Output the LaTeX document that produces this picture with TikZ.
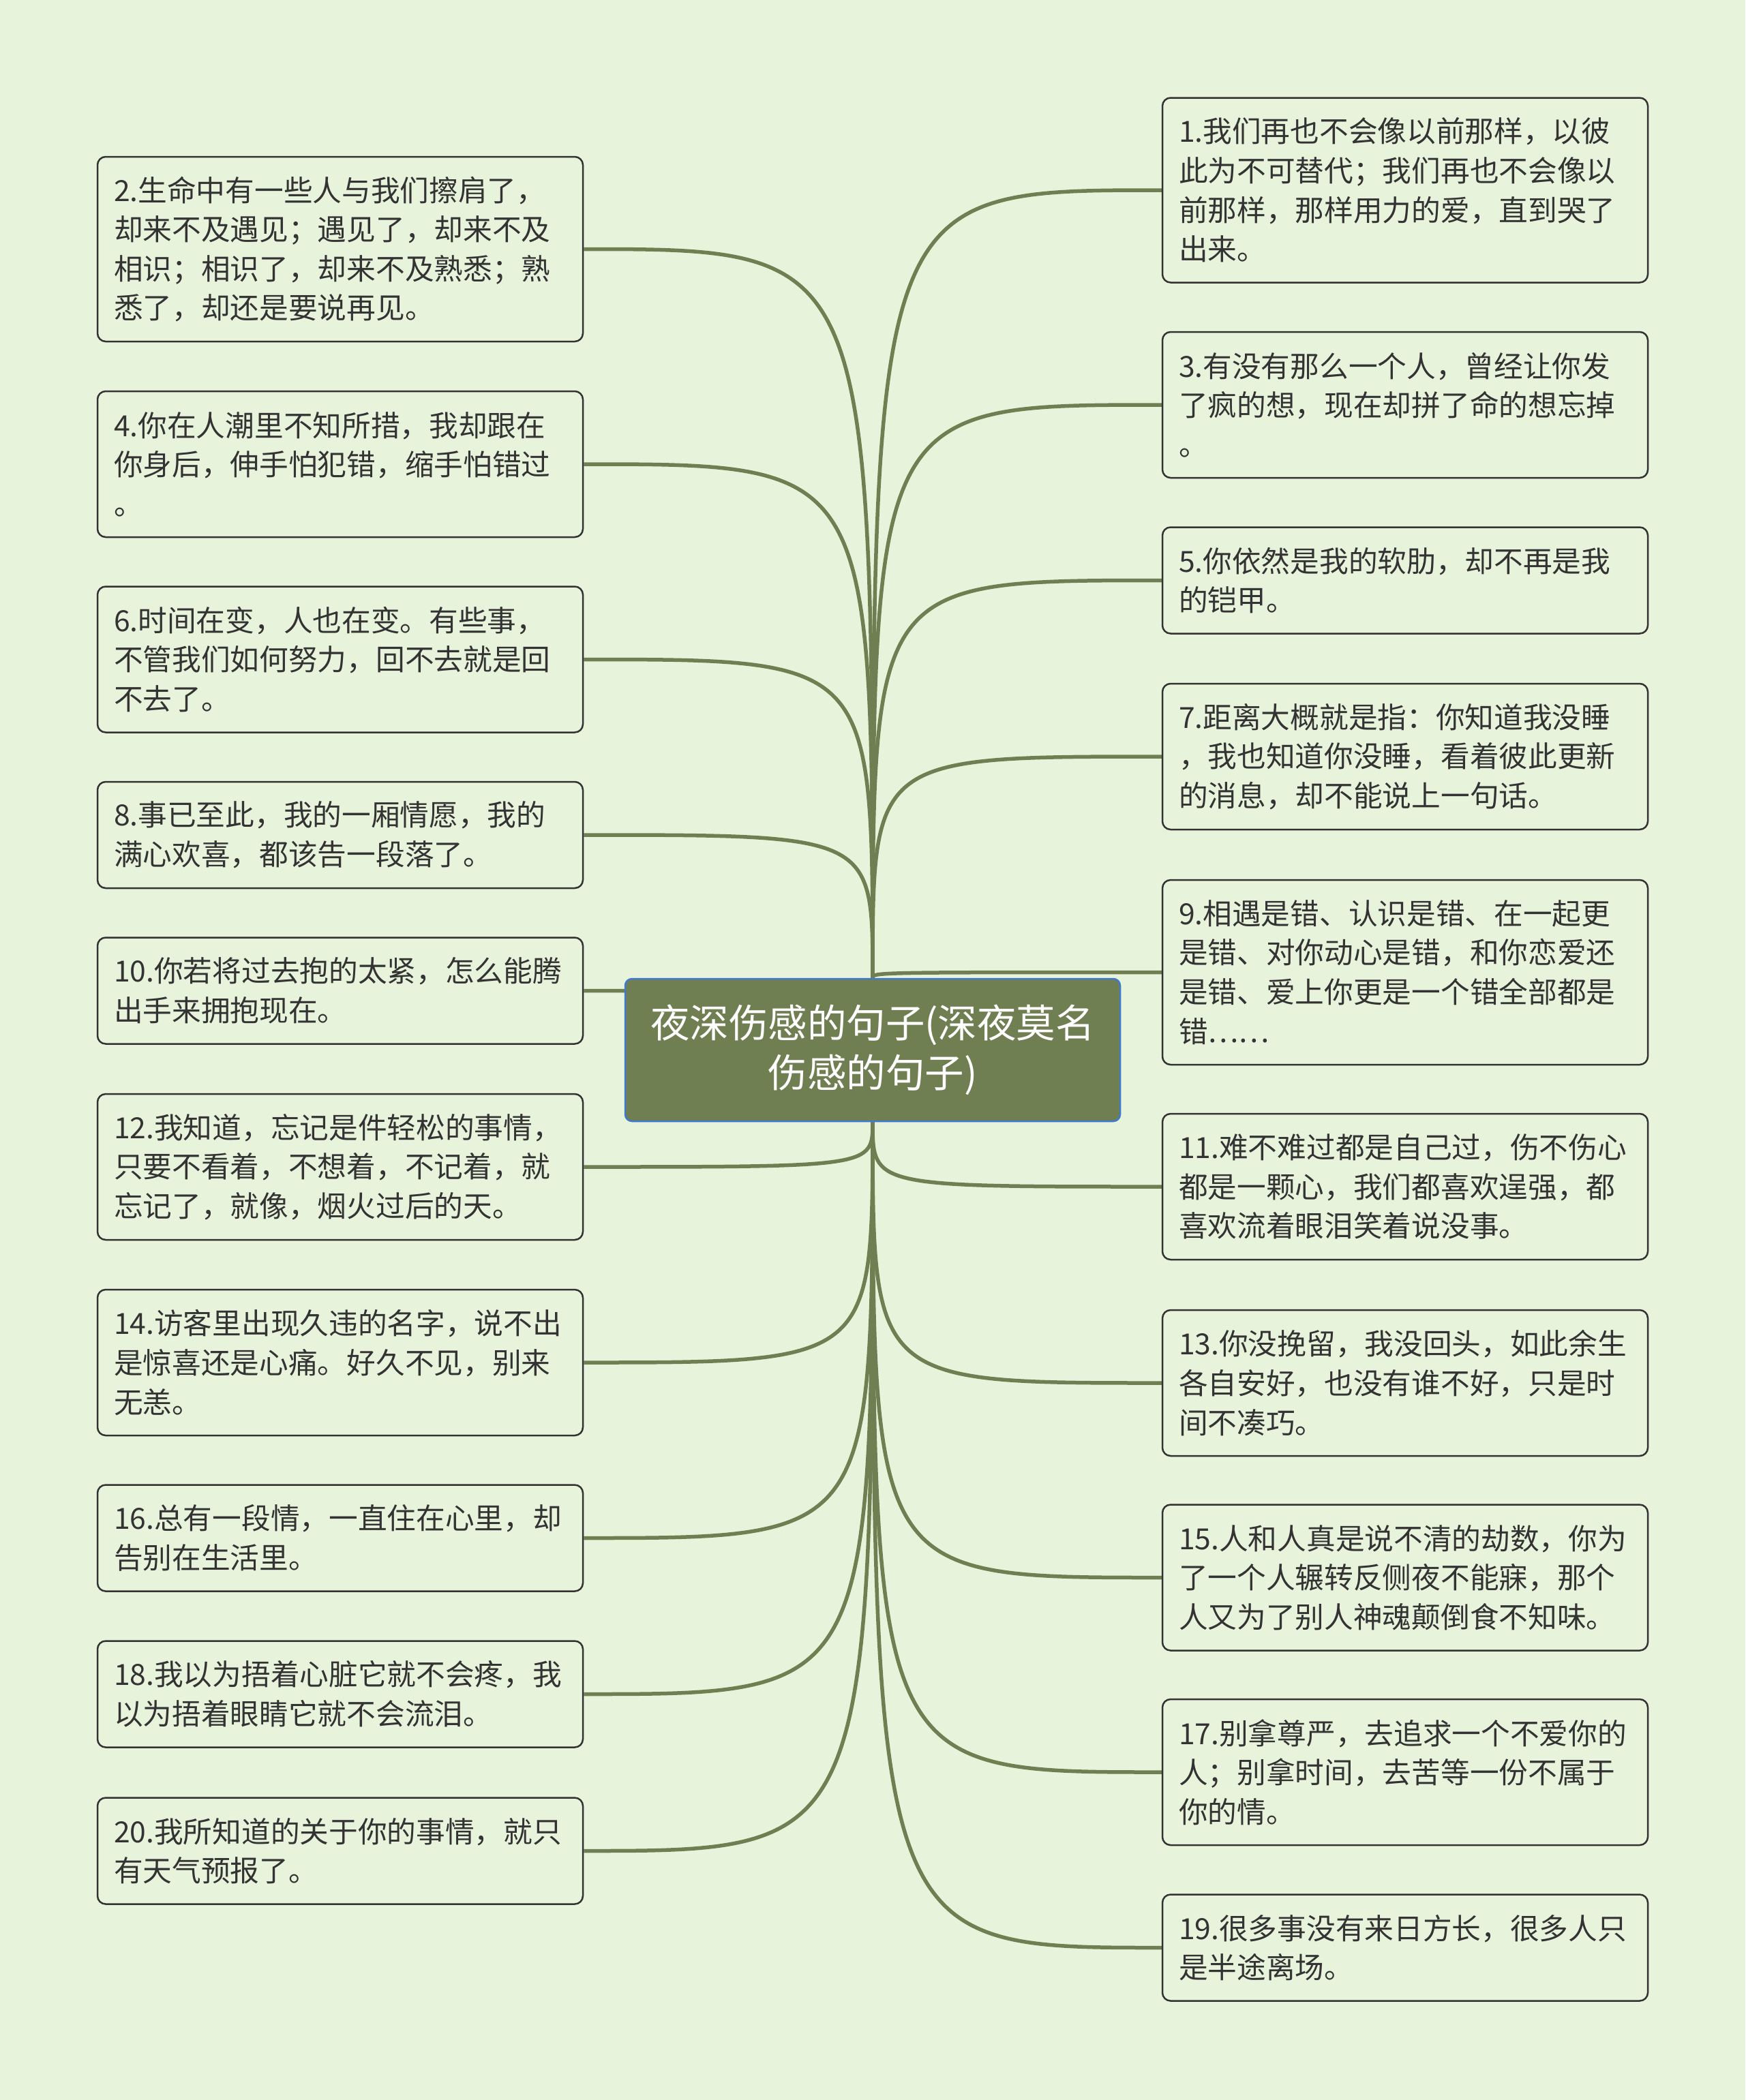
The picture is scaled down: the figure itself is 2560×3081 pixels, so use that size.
\documentclass[tikz,border=0pt]{standalone}
\usepackage{fontspec}
\setmainfont{Noto Sans CJK SC}
\usetikzlibrary{backgrounds}
\definecolor{bgcol}{RGB}{232,243,220}
\definecolor{olive}{RGB}{112,127,82}
\definecolor{rimblue}{RGB}{62,122,205}
\definecolor{ink}{RGB}{51,51,51}
\begin{document}
\begin{tikzpicture}[x=1pt, y=-1pt,
          leaf/.style={draw=ink, fill=bgcol, line width=2.5pt, rounded corners=12pt,
            text width=664pt, inner xsep=24pt, inner ysep=0pt, align=left, text=ink,
            font=\fontsize{42.7}{57.6}\selectfont},
          two/.style={leaf, minimum height=156pt},
          three/.style={leaf, minimum height=214pt},
          four/.style={leaf, minimum height=271pt},
          root/.style={draw=rimblue, fill=olive, line width=2.5pt, rounded corners=10pt,
            minimum width=726pt, minimum height=209pt, text width=700pt, align=center,
            text=white, font=\fontsize{57.5}{73}\selectfont},
          link/.style={draw=olive, line width=5.5pt}]
        \useasboundingbox (0,0) rectangle (2560,3081);
        \node[root] (c) at (1280,1540.5) {夜深伤感的句子(深夜莫名\\伤感的句子)};
        % left column
        \node[four] (b2) at (499,365.5) {2.生命中有一些人与我们擦肩了，\\却来不及遇见；遇见了，却来不及\\相识；相识了，却来不及熟悉；熟\\悉了，却还是要说再见。};
        \node[three] (b4) at (499,681) {4.你在人潮里不知所措，我却跟在\\你身后，伸手怕犯错，缩手怕错过\\。};
        \node[three] (b6) at (499,967.5) {6.时间在变，人也在变。有些事，\\不管我们如何努力，回不去就是回\\不去了。};
        \node[two] (b8) at (499,1225) {8.事已至此，我的一厢情愿，我的\\满心欢喜，都该告一段落了。};
        \node[two] (b10) at (499,1453.5) {10.你若将过去抱的太紧，怎么能腾\\出手来拥抱现在。};
        \node[three] (b12) at (499,1712) {12.我知道，忘记是件轻松的事情，\\只要不看着，不想着，不记着，就\\忘记了，就像，烟火过后的天。};
        \node[three] (b14) at (499,1999) {14.访客里出现久违的名字，说不出\\是惊喜还是心痛。好久不见，别来\\无恙。};
        \node[two] (b16) at (499,2256.5) {16.总有一段情，一直住在心里，却\\告别在生活里。};
        \node[two] (b18) at (499,2485.5) {18.我以为捂着心脏它就不会疼，我\\以为捂着眼睛它就不会流泪。};
        \node[two] (b20) at (499,2715.5) {20.我所知道的关于你的事情，就只\\有天气预报了。};
        % right column
        \node[four] (b1) at (2061,279) {1.我们再也不会像以前那样，以彼\\此为不可替代；我们再也不会像以\\前那样，那样用力的爱，直到哭了\\出来。};
        \node[three] (b3) at (2061,594) {3.有没有那么一个人，曾经让你发\\了疯的想，现在却拼了命的想忘掉\\。};
        \node[two] (b5) at (2061,851.5) {5.你依然是我的软肋，却不再是我\\的铠甲。};
        \node[three] (b7) at (2061,1110) {7.距离大概就是指：你知道我没睡\\，我也知道你没睡，看着彼此更新\\的消息，却不能说上一句话。};
        \node[four] (b9) at (2061,1426.5) {9.相遇是错、认识是错、在一起更\\是错、对你动心是错，和你恋爱还\\是错、爱上你更是一个错全部都是\\错……};
        \node[three] (b11) at (2061,1741) {11.难不难过都是自己过，伤不伤心\\都是一颗心，我们都喜欢逞强，都\\喜欢流着眼泪笑着说没事。};
        \node[three] (b13) at (2061,2029) {13.你没挽留，我没回头，如此余生\\各自安好，也没有谁不好，只是时\\间不凑巧。};
        \node[three] (b15) at (2061,2314.5) {15.人和人真是说不清的劫数，你为\\了一个人辗转反侧夜不能寐，那个\\人又为了别人神魂颠倒食不知味。};
        \node[three] (b17) at (2061,2600) {17.别拿尊严，去追求一个不爱你的\\人；别拿时间，去苦等一份不属于\\你的情。};
        \node[two] (b19) at (2061,2857.5) {19.很多事没有来日方长，很多人只\\是半途离场。};
        \begin{scope}[on background layer]
          \fill[bgcol] (0,0) rectangle (2560,3081);
          % branches above the root
          \draw[link] (c.north) .. controls (c.north |- b2.east) .. (b2.east);
          \draw[link] (c.north) .. controls (c.north |- b4.east) .. (b4.east);
          \draw[link] (c.north) .. controls (c.north |- b6.east) .. (b6.east);
          \draw[link] (c.north) .. controls (c.north |- b8.east) .. (b8.east);
          \draw[link] (c.north) .. controls (c.north |- b10.east) .. (b10.east);
          \draw[link] (c.north) .. controls (c.north |- b1.west) .. (b1.west);
          \draw[link] (c.north) .. controls (c.north |- b3.west) .. (b3.west);
          \draw[link] (c.north) .. controls (c.north |- b5.west) .. (b5.west);
          \draw[link] (c.north) .. controls (c.north |- b7.west) .. (b7.west);
          \draw[link] (c.north) .. controls (c.north |- b9.west) .. (b9.west);
          % branches below the root
          \draw[link] (c.south) .. controls (c.south |- b12.east) .. (b12.east);
          \draw[link] (c.south) .. controls (c.south |- b14.east) .. (b14.east);
          \draw[link] (c.south) .. controls (c.south |- b16.east) .. (b16.east);
          \draw[link] (c.south) .. controls (c.south |- b18.east) .. (b18.east);
          \draw[link] (c.south) .. controls (c.south |- b20.east) .. (b20.east);
          \draw[link] (c.south) .. controls (c.south |- b11.west) .. (b11.west);
          \draw[link] (c.south) .. controls (c.south |- b13.west) .. (b13.west);
          \draw[link] (c.south) .. controls (c.south |- b15.west) .. (b15.west);
          \draw[link] (c.south) .. controls (c.south |- b17.west) .. (b17.west);
          \draw[link] (c.south) .. controls (c.south |- b19.west) .. (b19.west);
        \end{scope}
      \end{tikzpicture}
\end{document}
